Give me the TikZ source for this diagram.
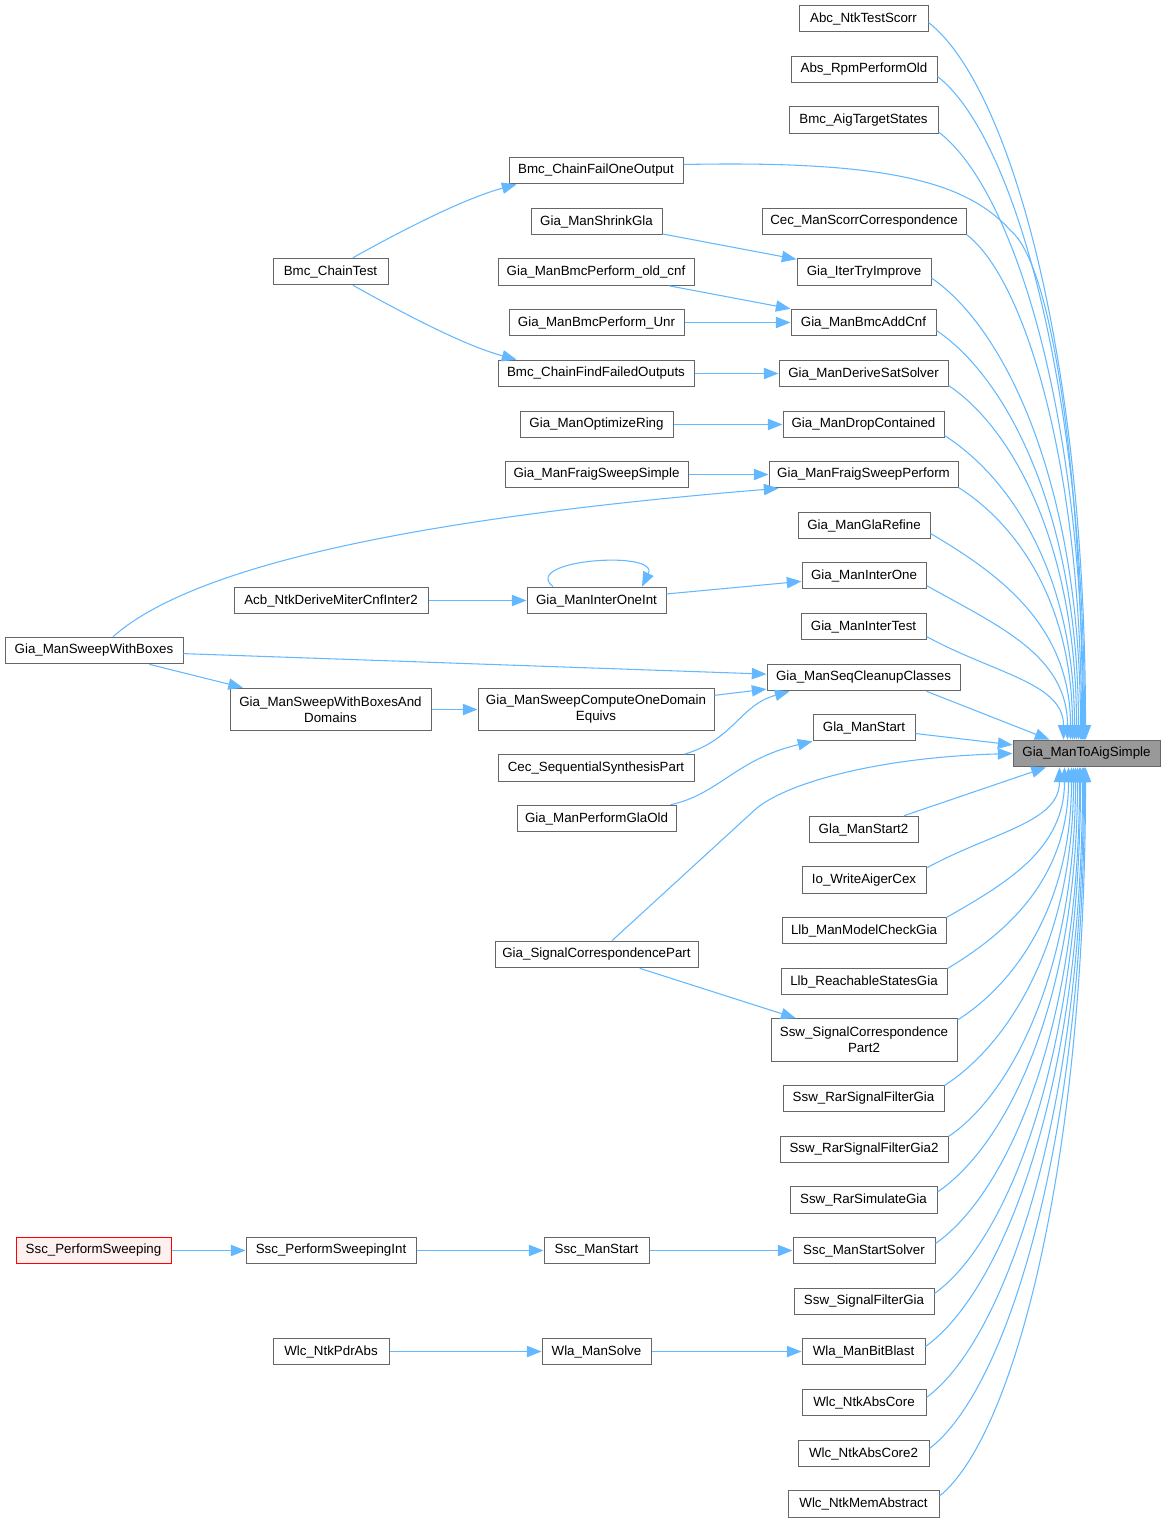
\documentclass[tikz,border=0pt]{standalone}
\usepackage{fontspec}
\setmainfont{Liberation Sans}
\usetikzlibrary{arrows.meta, calc}
\definecolor{edgeblue}{RGB}{99, 184, 255}
\definecolor{boxgray}{RGB}{102, 102, 102}
\definecolor{tgtgray}{RGB}{153, 153, 153}
\definecolor{rootred}{RGB}{255, 0, 0}
\definecolor{rootfill}{RGB}{255, 240, 240}
\tikzset{
  fn/.style={draw=boxgray, fill=white, line width=0.75pt, inner sep=0pt,
    minimum height=20pt, align=center, font=\fontsize{10}{12}\selectfont},
  fn2/.style={fn, minimum height=32pt},
  bw/.style={minimum width={#1*0.75pt}},
  call/.style={draw=edgeblue, line width=0.8pt, -{Triangle[length=11pt, width=8.5pt]}},
}

\begin{document}
\begin{tikzpicture}[x=0.75pt, y=-0.75pt]
  \useasboundingbox (0,0) rectangle (1165,1523);

  % Funktionen (Koordinaten in Pixeln des Call-Graphen)
  \node[fn, bw=129] (abc) at (863.5,18.5) {Abc\_NtkTestScorr};
  \node[fn, bw=146] (absrpm) at (864,69.5) {Abs\_RpmPerformOld};
  \node[fn, bw=149] (bmcats) at (863.5,120) {Bmc\_AigTargetStates};
  \node[fn, bw=174] (bmccfoo) at (596,170.5) {Bmc\_ChainFailOneOutput};
  \node[fn, bw=131] (shrinkgla) at (596.5,221.5) {Gia\_ManShrinkGla};
  \node[fn, bw=204] (cecscorr) at (864,221.5) {Cec\_ManScorrCorrespondence};
  \node[fn, bw=115] (chaintest) at (330.5,271.5) {Bmc\_ChainTest};
  \node[fn, bw=196] (bmcoldcnf) at (596,272) {Gia\_ManBmcPerform\_old\_cnf};
  \node[fn, bw=134] (itertry) at (864,272) {Gia\_IterTryImprove};
  \node[fn, bw=175] (bmcunr) at (596.5,322.5) {Gia\_ManBmcPerform\_Unr};
  \node[fn, bw=145] (bmcaddcnf) at (863.5,322.5) {Gia\_ManBmcAddCnf};
  \node[fn, bw=196] (bmccffo) at (596,373.5) {Bmc\_ChainFindFailedOutputs};
  \node[fn, bw=169] (derivesat) at (863.5,373.5) {Gia\_ManDeriveSatSolver};
  \node[fn, bw=153] (optring) at (596.5,424.5) {Gia\_ManOptimizeRing};
  \node[fn, bw=161] (dropcont) at (863.5,424.5) {Gia\_ManDropContained};
  \node[fn, bw=183] (fraigsimple) at (596.5,474.5) {Gia\_ManFraigSweepSimple};
  \node[fn, bw=189] (fraigperform) at (863.5,474.5) {Gia\_ManFraigSweepPerform};
  \node[fn, bw=132] (glarefine) at (864,525.5) {Gia\_ManGlaRefine};
  \node[fn, bw=124] (interone) at (864,575.5) {Gia\_ManInterOne};
  \node[fn, bw=194] (acb) at (331,600.5) {Acb\_NtkDeriveMiterCnfInter2};
  \node[fn, bw=139] (interoneint) at (596.5,600.5) {Gia\_ManInterOneInt};
  \node[fn, bw=125] (intertest) at (863.5,626.5) {Gia\_ManInterTest};
  \node[fn, bw=178] (sweepboxes) at (94,650.5) {Gia\_ManSweepWithBoxes};
  \node[fn, bw=193] (seqcleanup) at (863.5,677.5) {Gia\_ManSeqCleanupClasses};
  \node[fn2, bw=201] (sweepdomains) at (330.5,709.5) {Gia\_ManSweepWithBoxesAnd\\Domains};
  \node[fn2, bw=236] (computeequivs) at (596,709.5) {Gia\_ManSweepComputeOneDomain\\Equivs};
  \node[fn, bw=102] (glastart) at (864,727.5) {Gla\_ManStart};
  \node[fn, bw=147, fill=tgtgray] (tgt) at (1086.5,753.5) {Gia\_ManToAigSimple};
  \node[fn, bw=196] (cecseqsynth) at (596,768) {Cec\_SequentialSynthesisPart};
  \node[fn, bw=159] (performglaold) at (596.5,818.5) {Gia\_ManPerformGlaOld};
  \node[fn, bw=109] (glastart2) at (863.5,829.5) {Gla\_ManStart2};
  \node[fn, bw=124] (iowrite) at (864,880) {Io\_WriteAigerCex};
  \node[fn, bw=164] (llbmodel) at (864,930.5) {Llb\_ManModelCheckGia};
  \node[fn, bw=203] (sigcorr) at (596.5,954.5) {Gia\_SignalCorrespondencePart};
  \node[fn, bw=166] (llbreach) at (864,981.5) {Llb\_ReachableStatesGia};
  \node[fn2, bw=186] (sswpart2) at (864,1040) {Ssw\_SignalCorrespondence\\Part2};
  \node[fn, bw=161] (rarfilter) at (863.5,1098.5) {Ssw\_RarSignalFilterGia};
  \node[fn, bw=168] (rarfilter2) at (864,1149.5) {Ssw\_RarSignalFilterGia2};
  \node[fn, bw=147] (rarsim) at (863.5,1200) {Ssw\_RarSimulateGia};
  \node[fn, bw=155, draw=rootred, fill=rootfill] (sscperform) at (93.5,1250.5) {Ssc\_PerformSweeping};
  \node[fn, bw=170] (sscperformint) at (331,1250.5) {Ssc\_PerformSweepingInt};
  \node[fn, bw=105] (sscmanstart) at (596.5,1250.5) {Ssc\_ManStart};
  \node[fn, bw=142] (sscstartsolver) at (864,1250.5) {Ssc\_ManStartSolver};
  \node[fn, bw=140] (sswsigfilter) at (864,1301.5) {Ssw\_SignalFilterGia};
  \node[fn, bw=116] (wlcpdrabs) at (331,1351.5) {Wlc\_NtkPdrAbs};
  \node[fn, bw=109] (wlasolve) at (596.5,1351.5) {Wla\_ManSolve};
  \node[fn, bw=123] (wlabitblast) at (863.5,1351.5) {Wla\_ManBitBlast};
  \node[fn, bw=124] (wlcabscore) at (864,1402.5) {Wlc\_NtkAbsCore};
  \node[fn, bw=131] (wlcabscore2) at (863.5,1453.5) {Wlc\_NtkAbsCore2};
  \node[fn, bw=151] (wlcmemabs) at (863.5,1504) {Wlc\_NtkMemAbstract};

  % Aufrufe von oben in das Ziel
  \foreach \src/\yo/\xt in {abc/4/1086, absrpm/7/1085, bmcats/12/1084, cecscorr/13/1082,
      itertry/6/1081, bmcaddcnf/8/1079, derivesat/12/1077, dropcont/11/1075,
      fraigperform/13/1073, glarefine/8/1071, interone/10/1068, intertest/10/1064}
    \draw[call] let \p1=($(\src.east)+(0,\yo)$), \p2=($(tgt.north west)+(\xt-1013,0)$) in
      (\p1) .. controls ({\x1+0.5*(\x2-\x1)}, {\y1-0.25*(\x2-\x1)-0.03*(\y1-\y2)})
      and (\x2, {\y2+0.55*(\y1-\y2)}) .. (\p2);

  % Aufrufe von unten in das Ziel
  \foreach \src/\yo/\xt in {iowrite/-12/1060, llbmodel/-13/1065, llbreach/-13/1069,
      sswpart2/-20/1072, rarfilter/-13/1074, rarfilter2/-13/1076, rarsim/-8/1078,
      sscstartsolver/-7/1080, sswsigfilter/-8/1081, wlabitblast/-5/1083,
      wlcabscore/-5/1084, wlcabscore2/-5/1085, wlcmemabs/-8/1086}
    \draw[call] let \p1=($(\src.east)+(0,\yo)$), \p2=($(tgt.south west)+(\xt-1013,0)$) in
      (\p1) .. controls ({\x1+0.5*(\x2-\x1)}, {\y1+0.25*(\x2-\x1)+0.03*(\y2-\y1)})
      and (\x2, {\y2-0.55*(\y2-\y1)}) .. (\p2);

  % lange Kurve von Bmc_ChainFailOneOutput
  \draw[call] ($(bmccfoo.east)+(0,-6)$) .. controls +(200,-4) and +(-45,-50) .. ++(327,66)
    .. controls +(44,36) and +(0,-250) .. ($(tgt.north west)+(70,0)$);

  % direkte Aufrufe ins Ziel
  \draw[call] ($(seqcleanup.south)+(63,0)$) -- ($(tgt.north west)+(37,0)$);
  \draw[call] (glastart) -- (tgt);
  \draw[call] (glastart2) -- (tgt);
  \draw[call] ($(sigcorr.north)+(15.5,0)$) -- ++(143,-131)
    .. controls +(28,-25) and +(-140,4) .. (tgt.west);

  % linke Seite
  \draw[call] ($(chaintest.north)+(22.5,0)$) .. controls +(45,-25) and +(-55,15) .. ($(bmccfoo.south west)+(8,0)$);
  \draw[call] ($(chaintest.south)+(22.5,0)$) .. controls +(45,25) and +(-55,-15) .. ($(bmccffo.north west)+(19,0)$);
  \draw[call] (shrinkgla) -- (itertry);
  \draw[call] (bmcoldcnf) -- (bmcaddcnf);
  \draw[call] (bmcunr) -- (bmcaddcnf);
  \draw[call] (bmccffo) -- (derivesat);
  \draw[call] (optring) -- (dropcont);
  \draw[call] (fraigsimple) -- (fraigperform);
  \draw[call] ($(sweepboxes.north)+(19,0)$) .. controls +(87,-77) and +(-329,27) .. ($(fraigperform.south west)+(10,0)$);
  \draw[call] (acb) -- (interoneint);
  \draw[call] ($(interoneint.north)+(-43.5,0)$) .. controls +(-33,-27) and +(18,-37) .. ($(interoneint.north)+(45.5,0)$);
  \draw[call] (interoneint) -- (interone);
  \draw[call] (sweepboxes) -- (seqcleanup);
  \draw[call] (sweepboxes) -- (sweepdomains);
  \draw[call] (sweepdomains) -- (computeequivs);
  \draw[call] (computeequivs) -- (seqcleanup);
  \draw[call] ($(cecseqsynth.north east)+(-10,0)$) .. controls +(50,-15) and +(-50,14) .. ($(seqcleanup.south west)+(23,0)$);
  \draw[call] ($(performglaold.north east)+(-6,0)$) .. controls +(48,-10) and +(-77,18) .. (glastart.south west);
  \draw[call] (sigcorr) -- (sswpart2);

  % Ketten unten
  \draw[call] (sscperform) -- (sscperformint);
  \draw[call] (sscperformint) -- (sscmanstart);
  \draw[call] (sscmanstart) -- (sscstartsolver);
  \draw[call] (wlcpdrabs) -- (wlasolve);
  \draw[call] (wlasolve) -- (wlabitblast);

\end{tikzpicture}
\end{document}
